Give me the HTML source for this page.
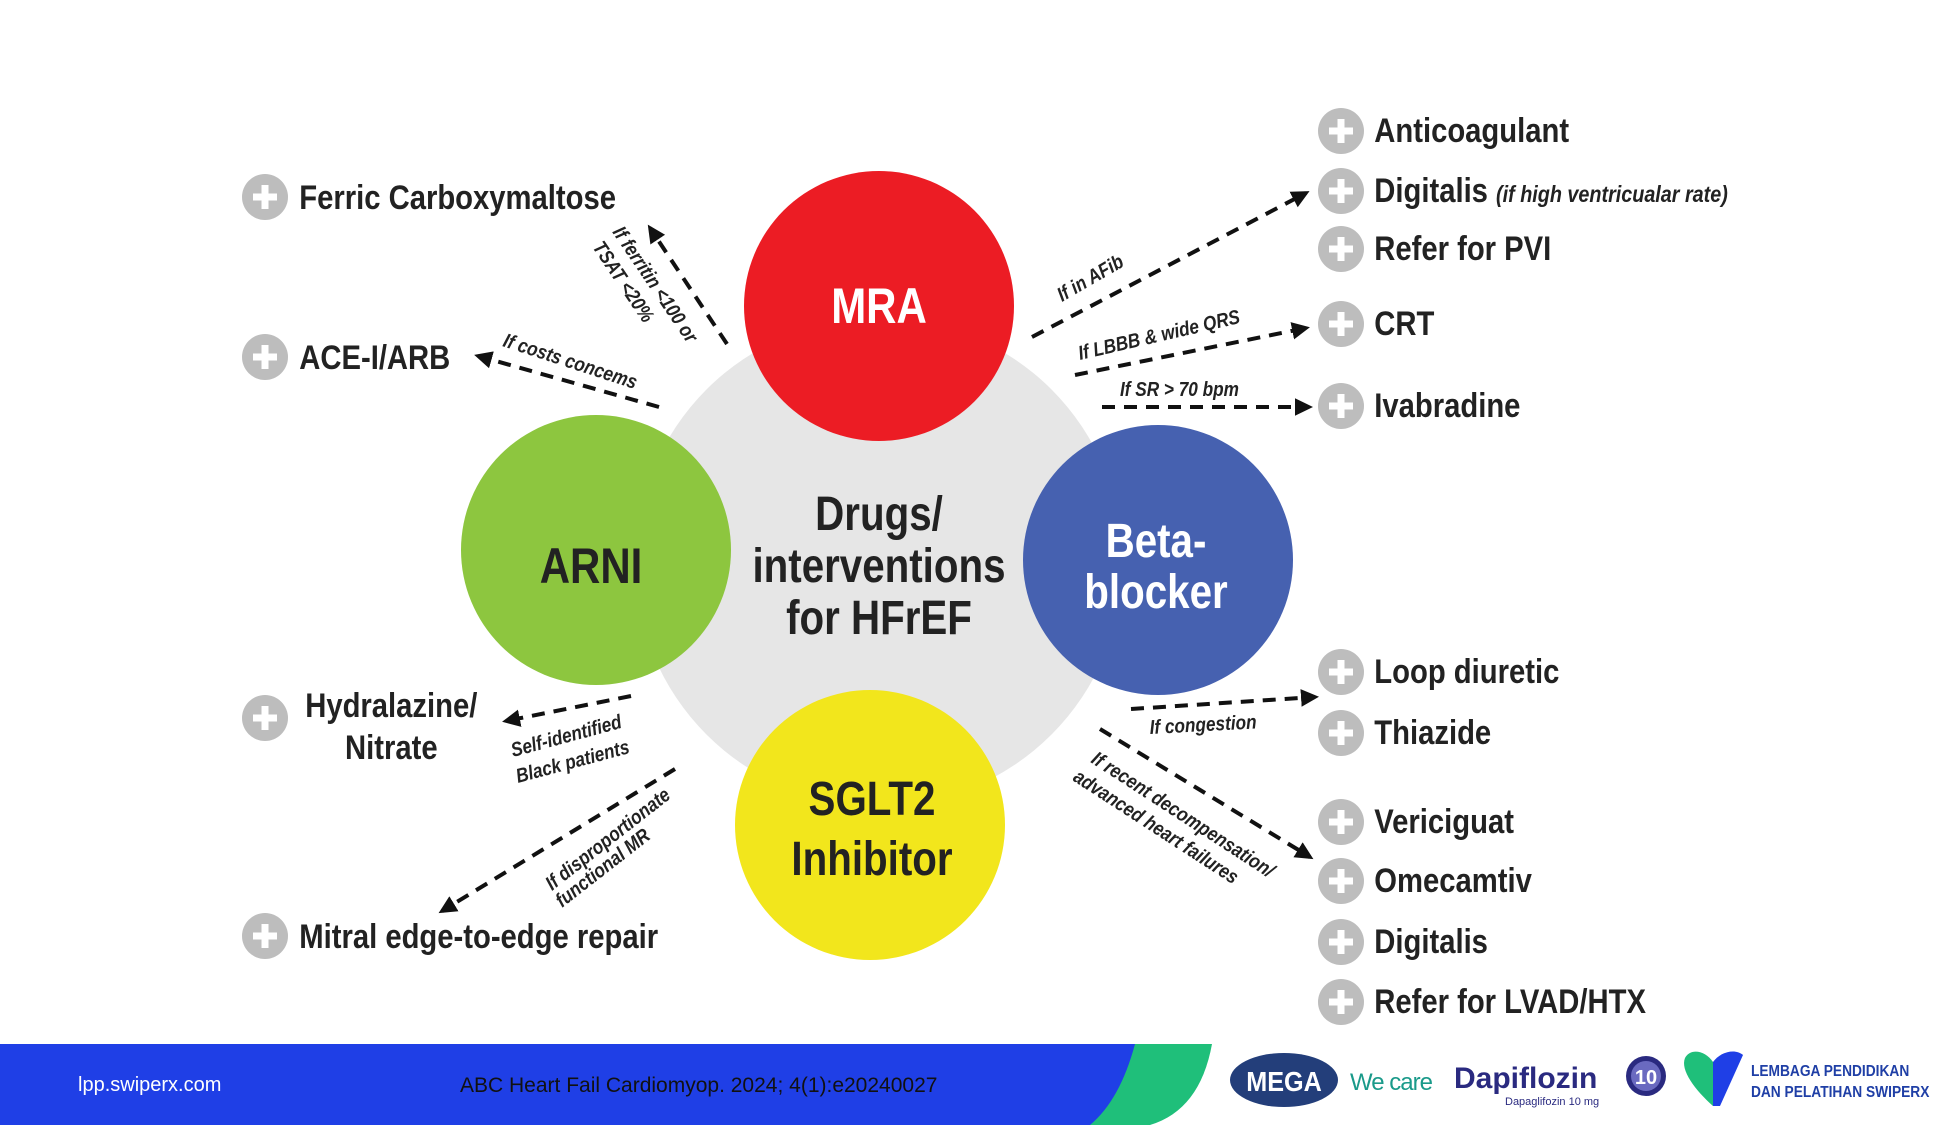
<!DOCTYPE html>
<html><head><meta charset="utf-8"><style>
html,body{margin:0;padding:0;background:#fff;}
svg{display:block}
.lbl{font-family:"Liberation Sans",sans-serif;font-weight:bold;fill:#222;font-size:34px}
.cond{font-family:"Liberation Sans",sans-serif;font-weight:bold;font-style:italic;fill:#222;font-size:20px}
.big{font-family:"Liberation Sans",sans-serif;font-weight:bold;text-anchor:middle}
</style></head><body>
<svg width="1950" height="1125" viewBox="0 0 1950 1125" xmlns="http://www.w3.org/2000/svg">
<defs>
<marker id="ah" markerWidth="5" markerHeight="5" refX="3.5" refY="2.5" orient="auto" markerUnits="strokeWidth">
<path d="M0,0.3 L4.5,2.5 L0,4.7 Z" fill="#111"/></marker>
<g id="plus"><circle r="23" fill="#bdbdbd"/><rect x="-12" y="-3.5" width="24" height="7" fill="#fff"/><rect x="-3.5" y="-12" width="7" height="24" fill="#fff"/></g>
</defs>
<rect width="1950" height="1125" fill="#fff"/>
<circle cx="879" cy="562" r="244" fill="#e6e6e6"/>
<circle cx="879" cy="306" r="135" fill="#ec1c24"/>
<circle cx="596" cy="550" r="135" fill="#8dc63f"/>
<circle cx="1158" cy="560" r="135" fill="#4661b0"/>
<circle cx="870" cy="825" r="135" fill="#f2e61c"/>
<text class="big" transform="translate(879,323) scale(0.84,1)" font-size="50" fill="#fff">MRA</text>
<text class="big" transform="translate(591,583) scale(0.84,1)" font-size="50" fill="#222">ARNI</text>
<text class="big" transform="translate(1156,557) scale(0.84,1)" font-size="48" fill="#fff">Beta-</text>
<text class="big" transform="translate(1156,608) scale(0.84,1)" font-size="48" fill="#fff">blocker</text>
<text class="big" transform="translate(872,815) scale(0.84,1)" font-size="48" fill="#222">SGLT2</text>
<text class="big" transform="translate(872,875) scale(0.84,1)" font-size="48" fill="#222">Inhibitor</text>
<text class="big" transform="translate(879,530) scale(0.84,1)" font-size="48" fill="#222">Drugs/</text>
<text class="big" transform="translate(879,582) scale(0.84,1)" font-size="48" fill="#222">interventions</text>
<text class="big" transform="translate(879,634) scale(0.84,1)" font-size="48" fill="#222">for HFrEF</text>
<g stroke="#111" stroke-width="4" stroke-dasharray="13,9" fill="none" marker-end="url(#ah)">
<line x1="727" y1="344" x2="650" y2="228"/>
<line x1="659" y1="407" x2="478" y2="356"/>
<line x1="1032" y1="337" x2="1306" y2="193"/>
<line x1="1075" y1="375" x2="1306" y2="328"/>
<line x1="1102" y1="407" x2="1309" y2="407"/>
<line x1="1131" y1="709" x2="1315" y2="697"/>
<line x1="1100" y1="729" x2="1310" y2="857"/>
<line x1="631" y1="696" x2="506" y2="721"/>
<line x1="675" y1="769" x2="442" y2="911"/>
</g>
<text class="cond" transform="translate(612,232) rotate(56) scale(0.86,1)">If ferritin &lt;100 or</text>
<text class="cond" transform="translate(592,247) rotate(56) scale(0.86,1)">TSAT &lt;20%</text>
<text class="cond" transform="translate(502,346) rotate(18) scale(0.86,1)">If costs concems</text>
<text class="cond" transform="translate(1062,302) rotate(-30) scale(0.86,1)">If in AFib</text>
<text class="cond" transform="translate(1080,360) rotate(-13) scale(0.86,1)">If LBBB &amp; wide QRS</text>
<text class="cond" transform="translate(1120,396) scale(0.86,1)">If SR &gt; 70 bpm</text>
<text class="cond" transform="translate(1150,734) rotate(-3) scale(0.86,1)">If congestion</text>
<text class="cond" transform="translate(1090,762) rotate(33) scale(0.86,1)">If recent decompensation/</text>
<text class="cond" transform="translate(1072,780) rotate(33) scale(0.86,1)">advanced heart failures</text>
<text class="cond" transform="translate(513,757) rotate(-15) scale(0.86,1)">Self-identified</text>
<text class="cond" transform="translate(518,783) rotate(-15) scale(0.86,1)">Black patients</text>
<text class="cond" transform="translate(552,891) rotate(-38) scale(0.86,1)">If disproportionate</text>
<text class="cond" transform="translate(562,908) rotate(-38) scale(0.86,1)">functional MR</text>
<use href="#plus" x="265" y="197"/>
<use href="#plus" x="265" y="357"/>
<use href="#plus" x="265" y="718"/>
<use href="#plus" x="265" y="936"/>
<use href="#plus" x="1341" y="131"/>
<use href="#plus" x="1341" y="191"/>
<use href="#plus" x="1341" y="249"/>
<use href="#plus" x="1341" y="324"/>
<use href="#plus" x="1341" y="406"/>
<use href="#plus" x="1341" y="672"/>
<use href="#plus" x="1341" y="733"/>
<use href="#plus" x="1341" y="822"/>
<use href="#plus" x="1341" y="881"/>
<use href="#plus" x="1341" y="942"/>
<use href="#plus" x="1341" y="1002"/>
<g transform="scale(0.86,1)">
<text class="lbl" x="348" y="209">Ferric Carboxymaltose</text>
<text class="lbl" x="348" y="369">ACE-I/ARB</text>
<text class="lbl" x="455" y="717" text-anchor="middle">Hydralazine/</text><text class="lbl" x="455" y="759" text-anchor="middle">Nitrate</text>
<text class="lbl" x="348" y="948">Mitral edge-to-edge repair</text>
<text class="lbl" x="1598" y="142">Anticoagulant</text>
<text class="lbl" x="1598" y="202">Digitalis <tspan font-size="23" font-style="italic">(if high ventricualar rate)</tspan></text>
<text class="lbl" x="1598" y="260">Refer for PVI</text>
<text class="lbl" x="1598" y="335">CRT</text>
<text class="lbl" x="1598" y="417">Ivabradine</text>
<text class="lbl" x="1598" y="683">Loop diuretic</text>
<text class="lbl" x="1598" y="744">Thiazide</text>
<text class="lbl" x="1598" y="833">Vericiguat</text>
<text class="lbl" x="1598" y="892">Omecamtiv</text>
<text class="lbl" x="1598" y="953">Digitalis</text>
<text class="lbl" x="1598" y="1013">Refer for LVAD/HTX</text>
</g>
<path d="M0,1044 L1212,1044 Q1200,1110 1150,1125 L0,1125 Z" fill="#1fbf7a"/>
<path d="M0,1044 L1135,1044 Q1120,1100 1090,1125 L0,1125 Z" fill="#1f3fe6"/>
<text x="78" y="1091" font-family="Liberation Sans,sans-serif" font-size="20" fill="#fff">lpp.swiperx.com</text>
<text x="460" y="1092" font-family="Liberation Sans,sans-serif" font-size="21" fill="#111">ABC Heart Fail Cardiomyop. 2024; 4(1):e20240027</text>
<ellipse cx="1284" cy="1080" rx="54" ry="27" fill="#233e7a"/>
<text x="1284" y="1091" text-anchor="middle" font-family="Liberation Sans,sans-serif" font-weight="bold" font-size="28" fill="#fff" transform="translate(1284,0) scale(0.9,1) translate(-1284,0)">MEGA</text>
<text x="1350" y="1090" font-family="Liberation Sans,sans-serif" font-size="24" fill="#1a9a8a" letter-spacing="-1">We care</text>
<text x="1454" y="1088" font-family="Liberation Sans,sans-serif" font-weight="bold" font-size="30" fill="#2a2a80">Dapiflozin</text>
<text x="1505" y="1105" font-family="Liberation Sans,sans-serif" font-size="11" fill="#2a2a80">Dapaglifozin 10 mg</text>
<circle cx="1646" cy="1076" r="20" fill="#2a2a80"/><circle cx="1646" cy="1076" r="15" fill="#6a6ac0"/>
<text x="1646" y="1084" text-anchor="middle" font-family="Liberation Sans,sans-serif" font-weight="bold" font-size="20" fill="#fff">10</text>
<path d="M1713,1106 C1695,1090 1680,1070 1685,1058 C1690,1048 1705,1050 1713,1062 Z" fill="#1fbf7a"/>
<path d="M1713,1106 L1713,1062 C1720,1052 1735,1048 1743,1055 L1720,1106 Z" fill="#1f3fe6"/>
<g transform="scale(0.86,1)">
<text x="2036" y="1076" font-family="Liberation Sans,sans-serif" font-weight="bold" font-size="16" fill="#1f3fa6">LEMBAGA PENDIDIKAN</text>
<text x="2036" y="1097" font-family="Liberation Sans,sans-serif" font-weight="bold" font-size="16" fill="#1f3fa6">DAN PELATIHAN SWIPERX</text>
</g>
</svg>
</body></html>
